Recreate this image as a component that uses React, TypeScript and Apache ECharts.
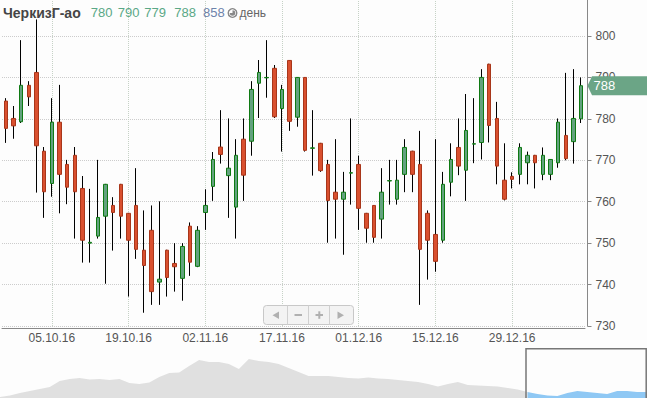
import React, { useEffect, useRef } from "react";
import * as echarts from "echarts";

const ticker = "ЧеркизГ-ао";
const volume = 858;
const periodLabel = "день";

const dates = [
  "27.09.16","28.09.16","29.09.16","30.09.16",
  "03.10.16","04.10.16","05.10.16","06.10.16","07.10.16",
  "10.10.16","11.10.16","12.10.16","13.10.16","14.10.16",
  "17.10.16","18.10.16","19.10.16","20.10.16","21.10.16",
  "24.10.16","25.10.16","26.10.16","27.10.16","28.10.16","31.10.16",
  "01.11.16","02.11.16","03.11.16",
  "07.11.16","08.11.16","09.11.16","10.11.16","11.11.16",
  "14.11.16","15.11.16","16.11.16","17.11.16","18.11.16",
  "21.11.16","22.11.16","23.11.16","24.11.16","25.11.16",
  "28.11.16","29.11.16","30.11.16","01.12.16","02.12.16",
  "05.12.16","06.12.16","07.12.16","08.12.16","09.12.16",
  "12.12.16","13.12.16","14.12.16","15.12.16","16.12.16",
  "19.12.16","20.12.16","21.12.16","22.12.16","23.12.16",
  "26.12.16","27.12.16","28.12.16","29.12.16","30.12.16",
  "03.01.17","04.01.17","05.01.17","06.01.17",
  "09.01.17","10.01.17","11.01.17","12.01.17"
];

const openValues = [
  784.3,780.1,779.3,788.1,791.2,772.2,764.4,779.2,769.0,771.2,
  763.2,750.0,751.7,756.5,759.1,764.2,757.2,759.1,748.3,753.1,
  740.6,748.3,745.1,741.5,754.1,744.4,757.4,763.7,773.2,766.3,
  758.7,775.1,774.6,788.6,789.9,792.2,782.5,794.1,780.4,790.0,
  772.9,774.1,769.0,762.3,760.6,766.9,769.0,757.2,759.1,755.8,
  765.0,760.6,766.6,772.2,769.0,757.2,752.1,750.7,764.7,773.1,
  767.6,773.9,774.3,793.2,780.1,765.2,766.1,766.6,769.4,771.2,
  766.6,766.6,769.4,776.0,774.5,780.0
];
const closeValues = [
  777.7,778.3,788.1,785.3,773.5,762.4,779.2,766.6,763.5,762.4,
  750.7,750.2,756.2,764.2,757.4,756.5,750.7,748.5,744.6,738.3,
  741.3,741.7,744.3,749.2,745.4,753.1,759.1,770.2,771.4,768.1,
  771.2,766.4,787.1,791.2,790.0,780.5,787.1,779.4,790.0,772.4,
  773.0,767.5,760.3,760.6,762.3,767.0,758.4,753.6,751.4,762.3,
  765.1,765.2,773.1,766.6,748.5,750.7,745.6,764.2,770.2,768.6,
  777.2,774.0,790.0,778.4,768.6,760.6,765.4,773.1,771.2,769.4,
  771.2,770.2,779.2,770.4,780.1,788.0
];
const lowValues = [
  774.2,775.2,779.0,783.1,762.2,756.1,761.2,757.2,759.4,751.1,
  745.3,745.3,751.1,740.2,748.2,751.1,737.1,746.2,733.2,735.1,
  735.1,737.1,738.3,736.1,742.1,744.2,753.2,760.2,769.2,756.1,
  751.1,760.2,771.1,780.2,785.1,780.2,772.1,777.1,778.1,772.1,
  766.3,767.2,750.1,751.1,747.2,759.3,753.2,750.1,750.1,751.1,
  759.3,759.3,762.3,762.3,735.1,741.2,743.1,750.1,761.3,766.4,
  760.2,769.3,770.2,774.3,764.2,760.3,763.2,764.2,764.2,763.2,
  765.2,765.2,768.2,770.0,769.2,779.0
];
const highValues = [
  785.0,783.1,799.0,789.1,804.0,773.2,785.0,788.2,770.1,773.2,
  766.2,763.1,770.1,764.3,761.1,764.3,757.3,768.1,757.9,759.1,
  760.1,748.4,750.0,750.0,755.0,754.1,763.0,772.0,782.1,780.1,
  775.1,780.1,789.1,794.2,799.0,793.0,788.2,794.2,790.1,790.1,
  782.1,774.2,770.1,775.1,767.2,780.1,771.1,757.3,759.2,768.1,
  770.1,770.1,775.1,772.3,777.1,757.9,775.1,767.2,774.1,780.1,
  786.0,785.0,792.0,793.3,784.1,774.1,767.1,774.1,772.1,771.3,
  773.1,770.3,780.1,791.1,792.0,790.0
];

const yTickValues = [730, 740, 750, 760, 770, 780, 790, 800];
const yMin = 730;
const yMax = 808.69;

// navigator (overview of a longer history), relative level
const navValues = [
  1,2.5,5,7,9,11,17,19,20,18.5,19,18,19,15,14,15.5,21,25,25.5,32,
  38,36,36,34,29,39,37,36,34,30,26,22,22,22,21,20,19.5,20.5,19.5,19,
  18,17,16,14,11.5,14,16,13,12.5,12,11.5,10,8.5,6,4,2.5,2,5,7,6,
  5,4,7,7,6,6
];
const navSelectedStart = 53;

const FONT = '"Liberation Sans", Arial, sans-serif';
const labelEvery = (i: number) => i >= 6 && (i - 6) % 10 === 0;

export default function App() {
  const ref = useRef<HTMLDivElement>(null);
  useEffect(() => {
    document.body.style.margin = "0";
    if (!ref.current) return;
    const chart = echarts.init(ref.current, undefined, { renderer: "svg" });

    const wickData = dates.map((_, i) => [openValues[i], closeValues[i], lowValues[i], highValues[i]]);
    const bodyData = dates.map((_, i) => [
      openValues[i], closeValues[i],
      Math.min(openValues[i], closeValues[i]), Math.max(openValues[i], closeValues[i])
    ]);
    const labelDates = dates.filter((_, i) => labelEvery(i));
    const navIdx = navValues.map((_, i) => String(i));
    const navGrey = navValues.map((v, i) => (i <= navSelectedStart ? v : null));
    const navBlue = navValues.map((v, i) => (i >= navSelectedStart ? v : null));

    chart.setOption({
      animation: false,
      backgroundColor: "#fdfdfd",
      textStyle: { fontFamily: FONT },
      grid: [
        { left: 2, right: 62, top: 0, bottom: 72 },
        { left: 0, right: 0, top: 348, height: 50 }
      ],
      xAxis: [
        {
          type: "category", gridIndex: 0, data: dates, boundaryGap: true, offset: 2,
          axisLine: { lineStyle: { color: "#888", width: 1 } },
          axisTick: { alignWithLabel: true, interval: (i: number) => labelEvery(i), length: 4, lineStyle: { color: "#888" } },
          axisLabel: { interval: (i: number) => labelEvery(i), color: "#555", fontSize: 12, margin: 4, fontFamily: FONT },
          splitLine: { show: false }
        },
        { type: "category", gridIndex: 1, data: navIdx, boundaryGap: false, show: false }
      ],
      yAxis: [
        {
          type: "value", gridIndex: 0, position: "right", min: yMin, max: yMax, interval: 10, offset: 2.5,
          axisLine: { show: true, lineStyle: { color: "#888", width: 1 } },
          axisTick: { show: true, length: 4, lineStyle: { color: "#888" } },
          axisLabel: {
            color: "#555", fontSize: 12, margin: 8, fontFamily: FONT, showMaxLabel: false,
            formatter: (v: number) => (yTickValues.indexOf(v) >= 0 ? String(v) : "")
          },
          splitLine: { show: false }
        },
        { type: "value", gridIndex: 1, min: 0, max: 50, show: false }
      ],
      series: [
        {
          type: "line", xAxisIndex: 0, yAxisIndex: 0, data: [], z: 1, silent: true,
          markLine: {
            silent: true, symbol: ["none", "none"], label: { show: false }, z: 1,
            data: [
              ...yTickValues.map((v) => ({ yAxis: v, lineStyle: { type: "dotted", color: "#cccccc", width: 1 } })),
              ...labelDates.map((d) => ({ xAxis: d, lineStyle: { type: "dotted", color: "#c6d2c6", width: 1 } }))
            ]
          }
        },
        {
          type: "candlestick", xAxisIndex: 0, yAxisIndex: 0, data: wickData, barWidth: 1, z: 2, clip: false,
          itemStyle: { color: "#000", color0: "#000", borderColor: "#000", borderColor0: "#000", borderWidth: 1 }
        },
        {
          type: "candlestick", xAxisIndex: 0, yAxisIndex: 0, data: bodyData, barWidth: 4, z: 3, clip: false,
          itemStyle: { color: "#63a27f", color0: "#d9502f", borderColor: "#0f7a13", borderColor0: "#a8361a", borderWidth: 1 }
        },
        {
          type: "line", xAxisIndex: 1, yAxisIndex: 1, data: navGrey, symbol: "none", silent: true,
          lineStyle: { width: 0 }, areaStyle: { color: "#e0e0e0", opacity: 1 }
        },
        {
          type: "line", xAxisIndex: 1, yAxisIndex: 1, data: navBlue, symbol: "none", silent: true,
          lineStyle: { width: 0 }, areaStyle: { color: "#8fc8f4", opacity: 1 }
        }
      ]
    });

    const last = dates.length - 1;
    const py = chart.convertToPixel({ yAxisIndex: 0 }, closeValues[last]) as number;
    const axisX = 587.5;
    const headerNums = [openValues[last], highValues[last], lowValues[last], closeValues[last]];
    const numX = [90.7, 117.7, 144.3, 174.3];
    const headerY = 12.5;

    chart.setOption({
      graphic: [
        { type: "text", x: 3, y: headerY, z: 20, style: { text: ticker, font: `bold 14px ${FONT}`, fill: "#454545", verticalAlign: "middle" } },
        ...headerNums.map((v, k) => ({
          type: "text", x: numX[k], y: headerY, z: 20,
          style: { text: String(Math.round(v)), font: `13px ${FONT}`, fill: "#5aa886", verticalAlign: "middle" }
        })),
        { type: "text", x: 203, y: headerY, z: 20, style: { text: String(volume), font: `13px ${FONT}`, fill: "#6d83ab", verticalAlign: "middle" } },
        { type: "circle", z: 20, shape: { cx: 232.5, cy: headerY + 0.5, r: 4.3 }, style: { fill: "none", stroke: "#888", lineWidth: 1.4 } },
        { type: "sector", z: 20, shape: { cx: 232.5, cy: headerY + 0.5, r: 2.8, r0: 0, startAngle: -Math.PI / 2, endAngle: Math.PI * 1.0 }, style: { fill: "#888" } },
        { type: "text", x: 239.5, y: headerY + 0.5, z: 20, style: { text: periodLabel, font: `12px ${FONT}`, fill: "#666", verticalAlign: "middle" } },
        // price tag
        {
          type: "polygon", z: 20,
          shape: { points: [[axisX, py], [592, py - 9.5], [647, py - 9.5], [647, py + 9.5], [592, py + 9.5]] },
          style: { fill: "#6ba586" }
        },
        { type: "text", x: 593.5, y: py, z: 21, style: { text: String(closeValues[last]), font: `13px ${FONT}`, fill: "#fff", verticalAlign: "middle" } },
        // navigation buttons
        { type: "rect", z: 20, shape: { x: 263.5, y: 305.5, width: 90, height: 19, r: 3 }, style: { fill: "#f3f3f3", stroke: "#c8c8c8", lineWidth: 1 } },
        { type: "line", z: 21, shape: { x1: 287.5, y1: 305.5, x2: 287.5, y2: 324.5 }, style: { stroke: "#d0d0d0", lineWidth: 1 } },
        { type: "line", z: 21, shape: { x1: 308.5, y1: 305.5, x2: 308.5, y2: 324.5 }, style: { stroke: "#d0d0d0", lineWidth: 1 } },
        { type: "line", z: 21, shape: { x1: 329.5, y1: 305.5, x2: 329.5, y2: 324.5 }, style: { stroke: "#d0d0d0", lineWidth: 1 } },
        { type: "polygon", z: 21, shape: { points: [[272.5, 315.2], [279, 311.5], [279, 319]] }, style: { fill: "#b0b0b0" } },
        { type: "rect", z: 21, shape: { x: 294.5, y: 314, width: 7.5, height: 2 }, style: { fill: "#b0b0b0" } },
        { type: "rect", z: 21, shape: { x: 315.5, y: 314, width: 7.5, height: 2 }, style: { fill: "#b0b0b0" } },
        { type: "rect", z: 21, shape: { x: 318.3, y: 311.3, width: 2, height: 7.5 }, style: { fill: "#b0b0b0" } },
        { type: "polygon", z: 21, shape: { points: [[337.5, 311.5], [344, 315.2], [337.5, 319]] }, style: { fill: "#b0b0b0" } },
        // navigator window
        { type: "rect", z: 20, shape: { x: 526, y: 348.7, width: 120.2, height: 52 }, style: { fill: "none", stroke: "#777", lineWidth: 1.5 } }
      ]
    });

    return () => chart.dispose();
  }, []);
  return <div ref={ref} style={{ width: 647, height: 398 }} />;
}
